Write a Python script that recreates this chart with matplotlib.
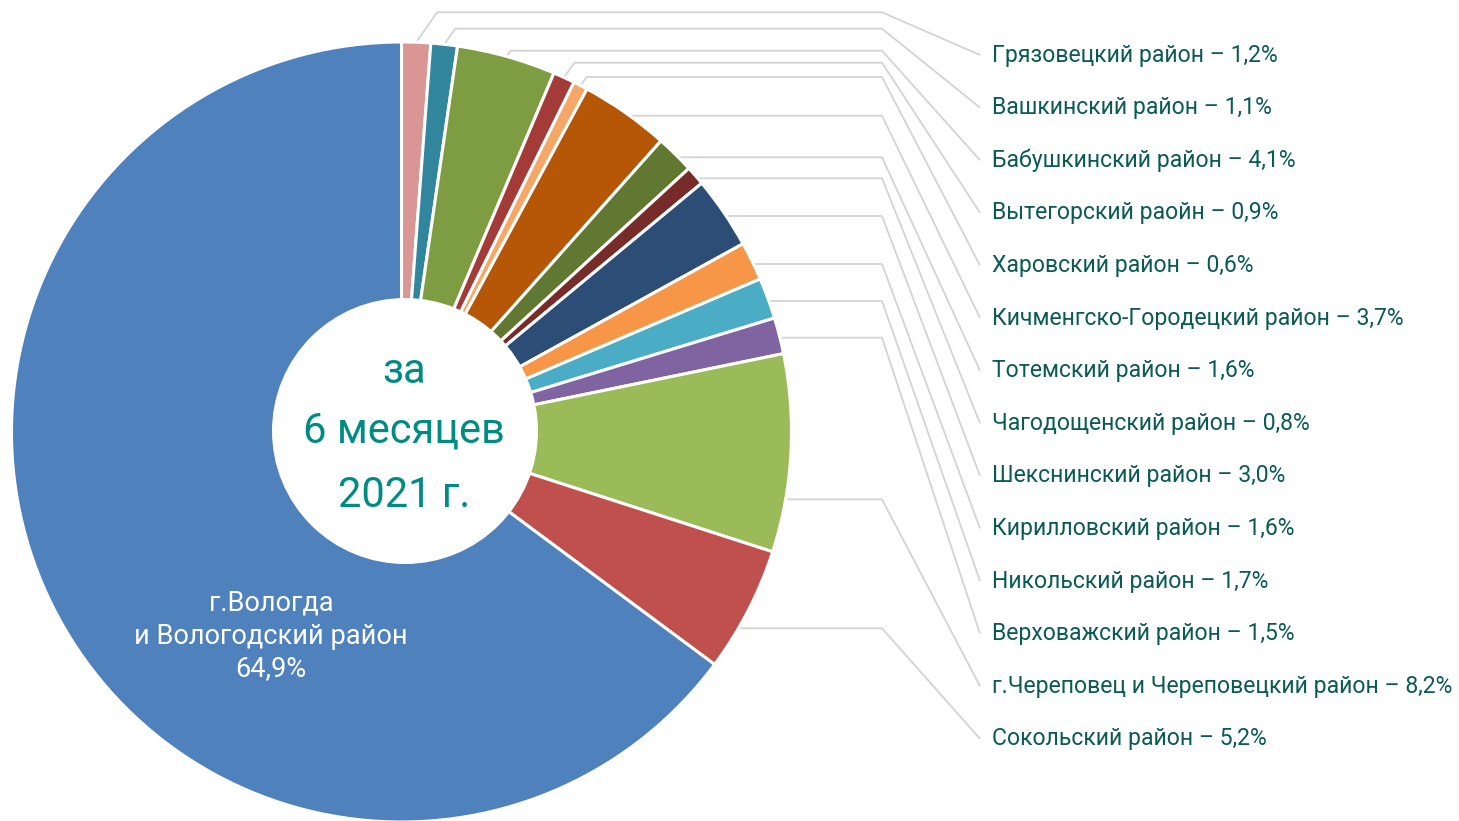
import numpy as np
import matplotlib
matplotlib.use('Agg')
import matplotlib.pyplot as plt
from matplotlib.patches import Circle

# ---------------- data ----------------
districts = ['Грязовецкий район', 'Вашкинский район', 'Бабушкинский район',
             'Вытегорский раойн', 'Харовский район', 'Кичменгско-Городецкий район',
             'Тотемский район', 'Чагодощенский район', 'Шекснинский район',
             'Кирилловский район', 'Никольский район', 'Верховажский район',
             'г.Череповец и Череповецкий район', 'Сокольский район']
shares = [1.2, 1.1, 4.1, 0.9, 0.6, 3.7, 1.6, 0.8, 3.0, 1.6, 1.7, 1.5, 8.2, 5.2]
main_lines = ['г.Вологда', 'и Вологодский район']
main_share = 64.9
center_lines = ['за', '6 месяцев', '2021 г.']

colors = ['#D99694', '#31859C', '#7E9D42', '#A33B39', '#F5A866', '#B65708',
          '#617832', '#772C2A', '#2C4D75', '#F79646', '#4BACC6', '#8064A2',
          '#9BBB59', '#C0504D']
main_color = '#4F81BD'

# ---------------- layout ----------------
W, H = 1459, 821
FONT = ['Roboto', 'DejaVu Sans']
plt.rcParams['font.family'] = FONT

cx, cy_pix, R = 401.5, 432, 390
elbow_y = [12.3, 28.7, 50.7, 62.7, 77, 115.7, 157.3, 178.3, 216, 264, 301,
           337.7, 499.3, 628.3]
bend_x, label_x0, text_x = 882, 980, 992
label_top, label_step = 53, 52.6
line_col = '#D3D3D3'
label_col = '#0B5A54'
center_col = '#008C82'


def fmt(v):
    return f'{v:.1f}'.replace('.', ',')


def Y(yp):
    return H - yp


fig = plt.figure(figsize=(W / 100, H / 100), dpi=100)
ax = fig.add_axes([0, 0, 1, 1])

wedges, _ = ax.pie(shares + [main_share], colors=colors + [main_color],
                   startangle=90, counterclock=False,
                   center=(cx, Y(cy_pix)), radius=R, frame=False,
                   wedgeprops=dict(edgecolor='white', linewidth=2.2))
ax.set_xlim(0, W)
ax.set_ylim(0, H)
ax.set_aspect('auto')
ax.axis('off')

# leader lines and labels
for i, (name, val) in enumerate(zip(districts, shares)):
    w = wedges[i]
    mid = np.deg2rad((w.theta1 + w.theta2) / 2)
    mx = cx + R * np.cos(mid)
    my_pix = cy_pix - R * np.sin(mid)
    yh = elbow_y[i]
    ly = label_top + label_step * i
    if yh < my_pix - 5:
        pts = [(mx, my_pix), (mx + 0.7 * (my_pix - yh), yh)]
    else:
        ex = cx + np.sqrt(R ** 2 - (yh - cy_pix) ** 2)
        pts = [(ex - 2, yh)]
    pts += [(bend_x, yh), (label_x0, ly + 2)]
    xs = [p[0] for p in pts]
    ys = [Y(p[1]) for p in pts]
    ax.plot(xs, ys, color=line_col, lw=1.3, zorder=0, solid_capstyle='butt')
    ax.text(text_x, Y(ly + 8.5), f'{name} – {fmt(val)}%', ha='left',
            va='baseline', fontsize=16.6, color=label_col)

# center white circle with text
ax.add_patch(Circle((405, Y(431)), 133, facecolor='white', edgecolor='none',
                    zorder=3))
for txt, yb in zip(center_lines, [382.7, 442.7, 506.7]):
    ax.text(404, Y(yb), txt, ha='center', va='baseline', fontsize=30,
            color=center_col, zorder=4)

# main slice label
for txt, yb in zip(main_lines + [f'{fmt(main_share)}%'], [610, 644, 676]):
    ax.text(271, Y(yb), txt, ha='center', va='baseline', fontsize=19.5,
            color='white', zorder=4)

fig.savefig('out.png', dpi=100, facecolor='white')
